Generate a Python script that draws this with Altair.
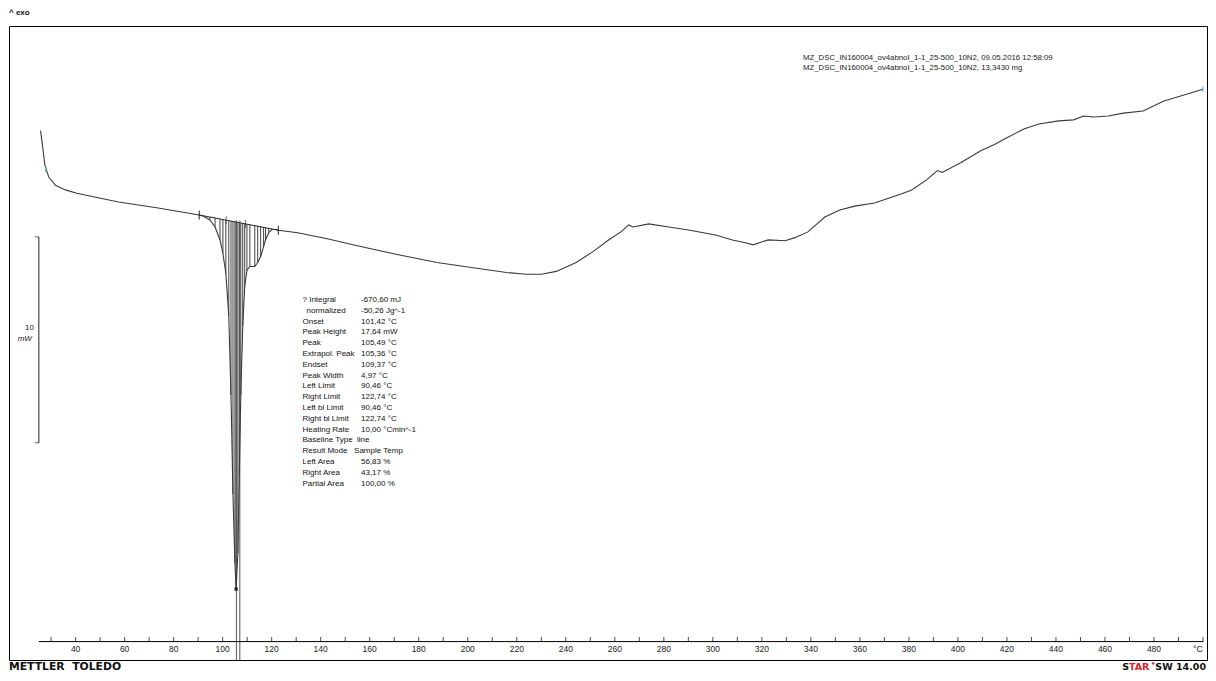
import altair as alt
import pandas as pd

# ---------------- data ----------------
temp_c = [25.7, 26.6, 27.4, 28.0, 29.1, 31.8, 35.8, 40.5, 57.5, 73.7, 90.46,
          92.0, 94.8, 96.9, 98.9, 100.1, 101.3, 102.5, 103.4, 104.2, 105.0, 105.49,
          106.2, 106.8, 107.4, 108.2, 109.0, 109.9, 111.1, 113.1, 114.3, 115.5,
          116.7, 117.5, 118.8, 120.0, 121.6, 122.74,
          130.6, 142.7, 154.9, 171.2, 187.4, 203.6, 215.8, 223.9, 230.0, 236.1,
          244.2, 251.1, 257.6, 262.5, 265.7, 267.4, 273.9, 282.0, 290.1, 301.1,
          308.0, 313.3, 316.5, 320.2, 322.6, 329.5, 333.5, 338.8, 345.7, 351.8,
          357.9, 366.0, 374.1, 381.0, 387.5, 391.6, 393.6, 401.3, 409.5, 414.7,
          420.0, 426.9, 433.0, 441.1, 447.2, 451.3, 455.3, 461.4, 467.5, 475.6,
          483.8, 491.9, 500.0]
heat_flow_mw = [24.82, 23.99, 23.19, 22.93, 22.55, 22.16, 21.94, 21.78, 21.35, 21.06, 20.72,
                20.67, 20.48, 20.14, 19.52, 18.85, 17.88, 15.82, 11.97, 7.16, 3.80, 2.55,
                4.28, 8.12, 11.97, 15.34, 17.26, 18.03, 18.22, 18.22, 18.41, 18.70,
                19.18, 19.52, 19.86, 20.00, 20.03, 19.98,
                19.86, 19.57, 19.23, 18.80, 18.41, 18.13, 17.93, 17.84, 17.84, 17.98,
                18.41, 18.94, 19.52, 19.90, 20.24, 20.14, 20.29, 20.14, 19.99, 19.75,
                19.51, 19.37, 19.27, 19.42, 19.51, 19.47, 19.62, 19.90, 20.62, 20.96,
                21.15, 21.30, 21.63, 21.92, 22.45, 22.88, 22.79, 23.27, 23.85, 24.13,
                24.47, 24.90, 25.14, 25.29, 25.34, 25.53, 25.48, 25.53, 25.67, 25.77,
                26.25, 26.54, 26.83]

left_limit_c, right_limit_c = 90.46, 122.74
baseline_left_mw, baseline_right_mw = 20.72, 19.98
onset_c, endset_c = 101.42, 109.37
peak_c, peak_mw = 105.49, 2.55
peak_lines_c = [105.6, 107.0]
start_marker = (27.8, 22.93)
end_marker = (500.0, 26.83)

x_ticks = [30, 40, 50, 60, 70, 80, 90, 100, 110, 120, 130, 140, 150, 160, 170, 180,
           190, 200, 210, 220, 230, 240, 250, 260, 270, 280, 290, 300, 310, 320, 330,
           340, 350, 360, 370, 380, 390, 400, 410, 420, 430, 440, 450, 460, 470, 480,
           490, 500]
x_label_values = [40, 60, 80, 100, 120, 140, 160, 180, 200, 220, 240, 260, 280, 300,
                  320, 340, 360, 380, 400, 420, 440, 460, 480]
x_label_texts = ["40", "60", "80", "100", "120", "140", "160", "180", "200", "220",
                 "240", "260", "280", "300", "320", "340", "360", "380", "400", "420",
                 "440", "460", "480"]
x_unit_at, x_unit = 500, "°C"

scale_bar_low_mw = 9.66
scale_bar_size_mw = 10

NB = "\u00a0"
eval_labels_a = ["? Integral"]
eval_labels_b = ["normalized"]
eval_labels_c = ["Onset", "Peak Height", "Peak", "Extrapol. Peak", "Endset",
                 "Peak Width", "Left Limit", "Right Limit", "Left bl Limit",
                 "Right bl Limit", "Heating Rate", "Baseline Type" + NB + NB + "line",
                 "Result Mode" + NB * 3 + "Sample Temp", "Left Area", "Right Area",
                 "Partial Area"]
eval_values_a = ["-670,60 mJ", "-50,26 Jg^-1", "101,42 °C", "17,64 mW", "105,49 °C",
                 "105,36 °C", "109,37 °C", "4,97 °C", "90,46 °C", "122,74 °C",
                 "90,46 °C", "122,74 °C", "10,00 °Cmin^-1"]
eval_values_b = ["56,83 %", "43,17 %", "100,00 %"]
header_lines = ["MZ_DSC_IN160004_ov4abnoI_1-1_25-500_10N2, 09.05.2016 12:58:09",
                "MZ_DSC_IN160004_ov4abnoI_1-1_25-500_10N2, 13,3430 mg"]

# ---------------- tables ----------------
curve = pd.DataFrame({"T": temp_c, "Q": heat_flow_mw})

def baseline(t):
    return baseline_left_mw + (t - left_limit_c) / (right_limit_c - left_limit_c) * (
        baseline_right_mw - baseline_left_mw)

hatch = curve[(curve["T"] >= left_limit_c) & (curve["T"] <= right_limit_c)].copy()
hatch["B"] = hatch["T"].apply(baseline)

W, H = 1198, 634
XD = [12.82, 501.63]
YD = [-0.894, 29.90]
xs = alt.Scale(domain=XD, nice=False, zero=False)
ys = alt.Scale(domain=YD, nice=False, zero=False)
FONT = "Liberation Sans"
LOGO_FONT = "DejaVu Sans"
LH = 10.8
TY = 274

def X(f="T"):
    return alt.X(f, type="quantitative", scale=xs, axis=None)

def Y(f="Q"):
    return alt.Y(f, type="quantitative", scale=ys, axis=None)

one = pd.DataFrame({"k": [0]})

hatch_layer = alt.Chart(hatch).mark_rule(color="#111", strokeWidth=0.8).encode(
    x=X(), y=Y("B"), y2="Q")

base_df = pd.DataFrame({"T": [left_limit_c], "T2": [right_limit_c],
                        "Q": [baseline_left_mw], "Q2": [baseline_right_mw]})
base_layer = alt.Chart(base_df).mark_rule(color="#222", strokeWidth=1).encode(
    x=X(), x2="T2", y=Y(), y2="Q2")

line_layer = alt.Chart(curve).mark_line(color="#3a3a3a", strokeWidth=1.1).encode(
    x=X(), y=Y(), order="T:Q")

pl_df = pd.DataFrame({"T": peak_lines_c, "Q": [baseline(t) + 0.1 for t in peak_lines_c],
                      "Q2": [YD[0]] * len(peak_lines_c)})
peak_lines = alt.Chart(pl_df).mark_rule(color="#555", strokeWidth=1).encode(
    x=X(), y=Y(), y2="Q2")

lim_df = pd.DataFrame({"T": [left_limit_c, right_limit_c],
                       "Q": [baseline_left_mw, baseline_right_mw]})
lim_marks = alt.Chart(lim_df).mark_tick(color="black", orient="vertical", size=9,
                                        thickness=1.2).encode(x=X(), y=Y())

oe_df = pd.DataFrame({"T": [onset_c, endset_c],
                      "Q": [baseline(onset_c), baseline(endset_c)]})
oe_marks = alt.Chart(oe_df).mark_tick(color="#333", orient="vertical", size=8,
                                      thickness=1).encode(x=X(), y=Y())

pk_df = pd.DataFrame({"T": [peak_c], "Q": [peak_mw]})
pk_mark = alt.Chart(pk_df).mark_point(shape="cross", angle=45, size=20, color="black",
                                      strokeWidth=1, filled=True).encode(x=X(), y=Y())

cy_df = pd.DataFrame({"T": [start_marker[0], end_marker[0]],
                      "Q": [start_marker[1], end_marker[1]]})
cy_marks = alt.Chart(cy_df).mark_tick(color="#3cc8d0", orient="vertical", size=6,
                                      thickness=1.5).encode(x=X(), y=Y())

# custom x axis
ax_df = pd.DataFrame({"T": [x_ticks[0] - 5], "T2": [x_ticks[-1]], "Q": [0.0]})
axis_line = alt.Chart(ax_df).mark_rule(color="black", strokeWidth=1).encode(
    x=X(), x2="T2", y=Y())
tick_df = pd.DataFrame({"T": x_ticks, "Q": [0.0] * len(x_ticks)})
axis_ticks = alt.Chart(tick_df).mark_tick(color="black", orient="vertical", size=5,
                                          thickness=1, yOffset=-2).encode(x=X(), y=Y())
lab_df = pd.DataFrame({"T": x_label_values, "Q": [0.0] * len(x_label_values),
                       "L": x_label_texts})
axis_labels = alt.Chart(lab_df).mark_text(font=FONT, fontSize=8.5, color="#222",
                                          baseline="middle", dy=7).encode(
    x=X(), y=Y(), text="L:N")
unit_df = pd.DataFrame({"T": [x_unit_at], "Q": [0.0], "L": [x_unit]})
axis_unit = alt.Chart(unit_df).mark_text(font=FONT, fontSize=9, color="#222",
                                         baseline="middle", align="right", dy=7,
                                         dx=0).encode(x=X(), y=Y(), text="L:N")

# scale bar
sb_df = pd.DataFrame({"T": [x_ticks[0] - 5], "Q": [scale_bar_low_mw],
                      "Q2": [scale_bar_low_mw + scale_bar_size_mw]})
sb_line = alt.Chart(sb_df).mark_rule(color="#222", strokeWidth=1).encode(
    x=X(), y=Y(), y2="Q2")
sb_end_df = pd.DataFrame({"T": [x_ticks[0] - 5, x_ticks[0] - 5],
                          "Q": [scale_bar_low_mw, scale_bar_low_mw + scale_bar_size_mw]})
sb_ends = alt.Chart(sb_end_df).mark_tick(color="#222", orient="horizontal", size=4,
                                         thickness=1, xOffset=-2).encode(x=X(), y=Y())
sb_text = alt.Chart(sb_df).mark_text(font=FONT, fontSize=8, align="right",
                                     baseline="middle", dx=-5, dy=-12, color="#222").encode(
    x=X(), y=alt.Y("mid:Q", scale=ys, axis=None), text=alt.value(str(scale_bar_size_mw))
).transform_calculate(mid="(datum.Q + datum.Q2) / 2")
sb_unit = alt.Chart(sb_df).mark_text(font=FONT, fontSize=8, align="right",
                                     baseline="middle", dx=-7, dy=-1, fontStyle="italic",
                                     color="#222").encode(
    x=X(), y=alt.Y("mid:Q", scale=ys, axis=None), text=alt.value("mW")
).transform_calculate(mid="(datum.Q + datum.Q2) / 2")

# text blocks
def block(lines, x, y, size=8, lh=LH, color="#111"):
    return alt.Chart(one).mark_text(text=lines, font=FONT, fontSize=size, align="left",
                                    baseline="middle", lineHeight=lh, color=color).encode(
        x=alt.value(x), y=alt.value(y))

ev_la = block(eval_labels_a, 293.5, TY)
ev_lb = block(eval_labels_b, 297.5, TY + LH)
ev_lc = block(eval_labels_c, 293.5, TY + 2 * LH)
ev_va = block(eval_values_a, 352, TY)
ev_vb = block(eval_values_b, 352, TY + 15 * LH)
hdr = block(header_lines, 794, 31.5, size=7.8, lh=10, color="#222")

exo = alt.Chart(one).mark_text(text="^ exo", font=FONT, fontSize=8, fontWeight="bold",
                               align="left", baseline="middle", color="#111").encode(
    x=alt.value(0), y=alt.value(-13))
BY = 641
LS = 9.5
mt = alt.Chart(one).mark_text(text="METTLER" + NB + NB + "TOLEDO", font=LOGO_FONT,
                              fontSize=10.8, fontWeight="bold", align="left",
                              baseline="middle", color="#111").encode(
    x=alt.value(0), y=alt.value(BY))
sw = alt.Chart(one).mark_text(text="SW 14.00", font=LOGO_FONT, fontSize=LS,
                              fontWeight="bold", align="right", baseline="middle",
                              color="#111").encode(x=alt.value(1197), y=alt.value(BY))
star_s = alt.Chart(one).mark_text(text="S", font=LOGO_FONT, fontSize=LS, fontWeight="bold",
                                  align="right", baseline="middle", color="#111").encode(
    x=alt.value(1120), y=alt.value(BY))
star_r = alt.Chart(one).mark_text(text="TAR", font=LOGO_FONT, fontSize=LS,
                                  fontWeight="bold", align="left", baseline="middle",
                                  color="#d8232a").encode(x=alt.value(1120), y=alt.value(BY))
star_e = alt.Chart(one).mark_text(text="•", font=LOGO_FONT, fontSize=7, fontWeight="bold",
                                  align="left", baseline="middle", color="#d8232a").encode(
    x=alt.value(1142), y=alt.value(BY - 3))

chart = alt.layer(
    hatch_layer, base_layer, peak_lines, line_layer, lim_marks, oe_marks, pk_mark,
    cy_marks, axis_line, axis_ticks, axis_labels, axis_unit, sb_line, sb_ends, sb_text,
    sb_unit, ev_la, ev_lb, ev_lc, ev_va, ev_vb, hdr, exo, mt, sw, star_s, star_r, star_e
).properties(
    width=W, height=H,
    autosize=alt.AutoSizeParams(type="none"),
    padding={"left": 1, "top": 18, "right": 1, "bottom": 13},
    background="white",
).configure_view(stroke="black", strokeWidth=1)

chart.save("out.html", embed_options={"renderer": "svg", "actions": False})
